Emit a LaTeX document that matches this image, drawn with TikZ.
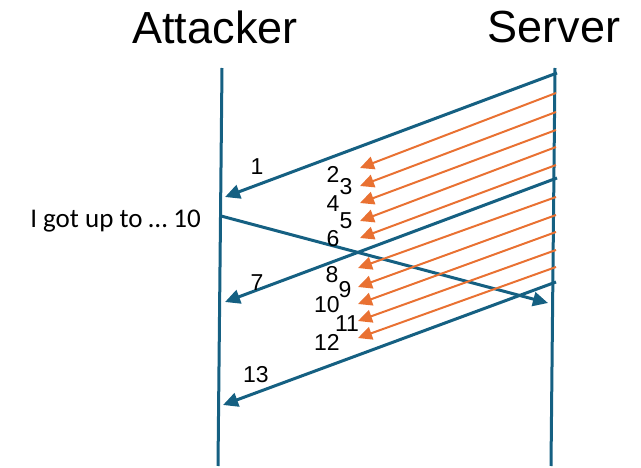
\documentclass[tikz,border=0pt]{standalone}
\usepackage{fontspec}
\setmainfont{Liberation Sans}
\newfontfamily\notefont{Carlito}
\usepackage{tikz}
\usetikzlibrary{arrows.meta}
\definecolor{msgblue}{HTML}{156082}
\definecolor{floodorange}{HTML}{E97132}
\tikzset{
  lifeline/.style={line width=3pt,draw=msgblue},
  msg/.style={line width=3pt,draw=msgblue,-{Triangle[length=15pt,width=14pt]}},
  flood/.style={line width=2pt,draw=floodorange,-{Triangle[length=14pt,width=13pt]}},
  party/.style={font=\fontsize{45}{47}\selectfont},
  seqno/.style={font=\fontsize{23}{25}\selectfont,inner sep=0pt},
  note/.style={font=\notefont\fontsize{27}{29}\selectfont,inner sep=0pt}
}
\begin{document}
\begin{tikzpicture}[x=1pt,y=-1pt]
  \useasboundingbox (0,0) rectangle (641,468);
  % parties and their lifelines
  \node[party] (att) at (215,27) {Attacker};
  \node[party] (srv) at (554,27) {Server};
  \coordinate (attTop) at (222,68);
  \coordinate (attBot) at (218,466);
  \coordinate (srvTop) at (555,68);
  \coordinate (srvBot) at (551,466);
  \draw[lifeline] (attTop) -- (attBot);
  \draw[lifeline] (srvTop) -- (srvBot);

  % first window: 1 reaches the attacker, 2-6 are flooded
  \coordinate (s1) at (557,73);
  \coordinate (r1) at (225,197);
  \draw[msg] (s1) -- (r1);
  \foreach \k/\ys/\yr in {2/93/168,3/112/186,4/130/203,5/147/221,6/165/238}{
    \coordinate (s\k) at (556,\ys);
    \coordinate (r\k) at (360,\yr);
    \draw[flood] (s\k) -- (r\k);
  }

  % attacker reports progress
  \node[note,anchor=east] (ack) at (201,221) {I got up to \dots\ 10};
  \coordinate (a10) at (221,216);
  \coordinate (v10) at (548,303);
  \draw[msg] (a10) -- (v10);

  % second window: 7, then 8-12 flooded, then 13
  \coordinate (s7) at (557,178);
  \coordinate (r7) at (225,302);
  \draw[msg] (s7) -- (r7);
  \foreach \k/\ys/\yr in {8/197/268,9/215/287,10/232/304,11/250/321,12/267/338}{
    \coordinate (s\k) at (556,\ys);
    \coordinate (r\k) at (358,\yr);
    \draw[flood] (s\k) -- (r\k);
  }
  \coordinate (s13) at (556,282);
  \coordinate (r13) at (223,405);
  \draw[msg] (s13) -- (r13);

  % sequence numbers
  \foreach \k/\x/\y in {1/257/167,2/333/174,3/346/187,4/333/204,5/346/221,
    6/333/239,7/257/283,8/332/275,9/345/290,10/327/305,11/347/324,
    12/327/342,13/256/375}
    \node[seqno] (n\k) at (\x,\y) {\k};
\end{tikzpicture}
\end{document}
